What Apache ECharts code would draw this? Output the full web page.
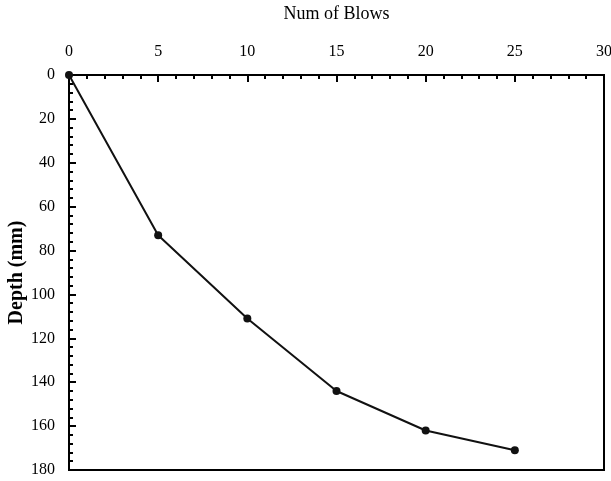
<!DOCTYPE html>
<html lang="en">
<head>
    <meta charset="UTF-8">
    <title>Depth vs Blows</title>
</head>
<body style="margin:0">
<div class="main" style="width: 611px;height: 481px;"></div>
</body>
<script src="https://cdn.jsdelivr.net/npm/echarts@6/dist/echarts.min.js"></script>
<script>
    var main = document.querySelector(".main");
    var mainEcharts = echarts.init(main);

    // blows vs penetration depth
    var blows = [0, 5, 10, 15, 20, 25];
    var depth = [0, 73, 111, 144, 162, 171];

    var points = blows.map(function (b, i) {
        return [b, depth[i]];
    });

    var font = "'Liberation Serif', 'Times New Roman', serif";

    var option = {
        backgroundColor: '#fff',
        animation: false,
        grid: {
            left: 69, right: 7, top: 75, bottom: 11,
            outerBoundsMode: 'none',
            containLabel: false,
            show: true, borderColor: '#000', borderWidth: 2
        },
        xAxis: {
            type: 'value',
            position: 'top',
            min: 0, max: 30, interval: 5,
            name: 'Num of Blows',
            nameLocation: 'middle',
            nameGap: 52,
            nameMoveOverlap: false,
            nameTextStyle: {color: '#000', fontSize: 18, fontFamily: font},
            axisLine: {lineStyle: {color: '#000', width: 2}},
            axisTick: {inside: true, length: 7, lineStyle: {color: '#000', width: 2}},
            minorTick: {show: true, splitNumber: 5, length: 4, lineStyle: {color: '#000', width: 2}},
            axisLabel: {color: '#000', fontSize: 16, fontFamily: font, margin: 15},
            splitLine: {show: false}
        },
        yAxis: {
            type: 'value',
            inverse: true,
            min: 0, max: 180, interval: 20,
            name: 'Depth (mm)',
            nameLocation: 'middle',
            nameRotate: 90,
            nameGap: 42,
            nameMoveOverlap: false,
            nameTextStyle: {color: '#000', fontSize: 20, fontWeight: 'bold', fontFamily: font},
            axisLine: {lineStyle: {color: '#000', width: 2}},
            axisTick: {inside: true, length: 7, lineStyle: {color: '#000', width: 2}},
            minorTick: {show: true, splitNumber: 5, length: 4, lineStyle: {color: '#000', width: 2}},
            axisLabel: {color: '#000', fontSize: 16, fontFamily: font, margin: 14},
            splitLine: {show: false}
        },
        series: [{
            type: 'line',
            data: points,
            symbol: 'circle',
            symbolSize: 8,
            itemStyle: {color: '#111'},
            lineStyle: {color: '#111', width: 2}
        }]
    };

    mainEcharts.setOption(option);
</script>
</html>
